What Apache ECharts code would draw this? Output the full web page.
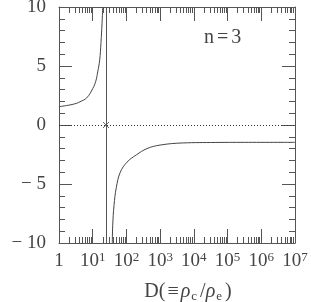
<!DOCTYPE html>
<html>
<head>
<meta charset="utf-8">
<script src="https://cdn.jsdelivr.net/npm/echarts@6/dist/echarts.min.js"></script>
<style>
html,body{margin:0;padding:0;background:#fff;}
#c{width:311px;height:302px;}
</style>
</head>
<body>
<div id="c"></div>
<script>
// Left branch (D, C_V)
const leftD  = [1, 2.12, 3.35, 4.2, 6.64, 10.07, 12.3, 14.06, 16.1, 17.6, 18.9, 19.8];
const leftCv = [1.55, 1.70, 1.84, 1.97, 2.3, 3.1, 3.7, 4.5, 5.5, 7.0, 8.6, 10];
// Right branch (D, C_V)
const rightD  = [38.1, 39.2, 42.9, 50.1, 65.8, 104, 195, 407, 1000, 4790, 42700, 316000, 1e7];
const rightCv = [-10, -8.5, -6.8, -5.3, -4.0, -3.15, -2.54, -2.0, -1.7, -1.52, -1.48, -1.47, -1.47];
// critical density contrast
const criticalD = 24.8;
// ticks
const xMajorTicks = [1, 10, 100, 1e3, 1e4, 1e5, 1e6, 1e7];
const xMinorTicks = [];
for (let e = 0; e < 7; e++) for (let m = 2; m <= 9; m++) xMinorTicks.push(m * Math.pow(10, e));

const chart = echarts.init(document.getElementById('c'), null, {renderer: 'canvas'});
const LINE = '#555';
const TXT = '#444';
const FONT = 'Liberation Serif';

function xLabel(v) {
  const e = Math.round(Math.log10(v));
  if (e === 0) return '{a|1}';
  return '{a|10}{s|' + e + '}';
}
const xRich = {
  a: {fontFamily: FONT, fontSize: 19, color: TXT, lineHeight: 20},
  s: {fontFamily: FONT, fontSize: 13, color: TXT, verticalAlign: 'top', lineHeight: 20, padding: [0,0,6,0]}
};

function logAxis(pos, len, ticks, showLine, showLabel) {
  return {
    type: 'log', logBase: 10, min: 1, max: 1e7, position: pos,
    axisLine: {show: showLine, onZero: false, lineStyle: {color: LINE, width: 1}},
    axisTick: {show: true, inside: true, length: len, customValues: ticks, lineStyle: {color: LINE, width: 1}},
    axisLabel: showLabel ? {show: true, customValues: xMajorTicks, formatter: xLabel, rich: xRich, margin: 8} : {show: false},
    splitLine: {show: false}, minorTick: {show: false}, minorSplitLine: {show: false}
  };
}

function valAxis(pos, showLabel) {
  return {
    type: 'value', min: -10, max: 10, interval: 5, position: pos,
    axisLine: {show: true, onZero: false, lineStyle: {color: LINE, width: 1}},
    axisTick: {show: true, inside: true, length: 13, lineStyle: {color: LINE, width: 1}},
    minorTick: {show: true, splitNumber: 5, length: 6, lineStyle: {color: LINE, width: 1}},
    splitLine: {show: false}, minorSplitLine: {show: false},
    axisLabel: showLabel ? {
      show: true, margin: 13, fontFamily: FONT, fontSize: 19, color: TXT,
      formatter: v => v < 0 ? '\u2212 ' + Math.abs(v) : String(v)
    } : {show: false}
  };
}

const xMain = logAxis('bottom', 14, xMajorTicks, true, true);
xMain.name = '{t|D(}{q|\u2261}{g|\u03c1}{b|c}{t|/}{g|\u03c1}{b|e}{t|)}';
xMain.nameLocation = 'middle';
xMain.nameGap = 38;
xMain.nameTextStyle = {
  padding: [0, 0, 0, 22],
  rich: {
    t: {fontFamily: FONT, fontSize: 20, color: TXT, lineHeight: 22},
    q: {fontFamily: FONT, fontSize: 20, color: TXT, lineHeight: 22, padding: [0, 2, 0, 2]},
    g: {fontFamily: FONT, fontSize: 20, fontStyle: 'italic', color: TXT, lineHeight: 22},
    b: {fontFamily: FONT, fontSize: 13, color: TXT, verticalAlign: 'bottom', lineHeight: 22, padding: [7, 3, 0, 1]}
  }
};

const yMain = valAxis('left', true);
yMain.name = '{c|C}{s|V}';
yMain.nameLocation = 'middle';
yMain.nameRotate = 90;
yMain.nameGap = 36;
yMain.nameTextStyle = {
  padding: [0, 0, 0, 22],
  rich: {
    c: {fontFamily: FONT, fontSize: 19, color: TXT, lineHeight: 22},
    s: {fontFamily: FONT, fontSize: 12, color: TXT, verticalAlign: 'bottom', lineHeight: 22, padding: [6,0,0,0]}
  }
};

chart.setOption({
  animation: false,
  backgroundColor: '#fff',
  grid: {left: 59, right: 16, top: 7, bottom: 59, containLabel: false, outerBoundsMode: 'none'},
  xAxis: [
    xMain,
    logAxis('bottom', 6, xMinorTicks, false, false),
    logAxis('top', 14, xMajorTicks, true, false),
    logAxis('top', 6, xMinorTicks, false, false)
  ],
  yAxis: [yMain, valAxis('right', false)],
  graphic: [{
    type: 'text', left: 204, top: 28,
    style: {
      text: '{a|n}{b|=}{a|3}',
      rich: {
        a: {fontFamily: FONT, fontSize: 20, fill: TXT, color: TXT},
        b: {fontFamily: FONT, fontSize: 20, fill: TXT, color: TXT, padding: [0, 3, 0, 3]}
      }
    }
  }],
  series: [
    {
      type: 'line', xAxisIndex: 0, yAxisIndex: 0,
      data: leftD.map((d, i) => [d, leftCv[i]]),
      showSymbol: false, smooth: 0.4,
      lineStyle: {color: '#444', width: 1, type: 'solid'}, clip: true,
      markLine: {
        silent: true, symbol: 'none', animation: false,
        label: {show: false},
        data: [
          {yAxis: 0, lineStyle: {type: [1, 2], color: '#333', width: 1}},
          {xAxis: criticalD, lineStyle: {type: 'solid', color: '#555', width: 1}}
        ]
      }
    },
    {
      type: 'line', xAxisIndex: 0, yAxisIndex: 0,
      data: rightD.map((d, i) => [d, rightCv[i]]),
      showSymbol: false, smooth: 0.4,
      lineStyle: {color: '#444', width: 1, type: 'solid'}, clip: true
    },
    {
      type: 'scatter', xAxisIndex: 0, yAxisIndex: 0,
      data: [[criticalD, 0]],
      symbol: 'path://M0,0L10,10M10,0L0,10', symbolSize: 6,
      itemStyle: {color: 'none', borderColor: '#444', borderWidth: 1}
    }
  ]
});
</script>
</body>
</html>
